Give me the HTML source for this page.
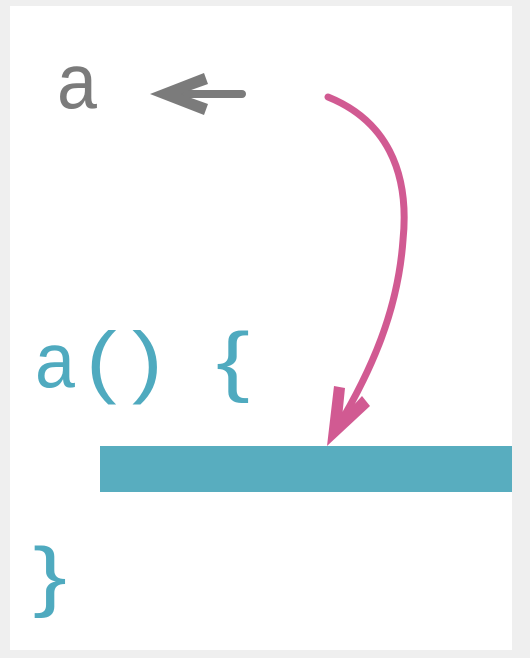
<!DOCTYPE html>
<html><head><style>
html,body{margin:0;padding:0;background:#efefef;}
svg{display:block;}
</style></head><body>
<svg width="530" height="658" viewBox="0 0 530 658" xmlns="http://www.w3.org/2000/svg">
<rect x="0" y="0" width="530" height="658" fill="#efefef"/>
<rect x="10" y="6" width="502" height="644" fill="#ffffff"/>
<text transform="translate(57,108) scale(0.92,1)" font-family="Liberation Sans, sans-serif" font-size="78" fill="#7b7b7b">a</text>
<line x1="242" y1="94" x2="170" y2="94" stroke="#7b7b7b" stroke-width="8" stroke-linecap="round"/>
<polygon points="150,94 204,73 208,84 180,94 208,104 204,115" fill="#7b7b7b"/>
<path d="M328,97 C385,120 410,170 403,240 C398,310 372,370 336,430" fill="none" stroke="#d15a92" stroke-width="7" stroke-linecap="round"/>
<polygon points="327,446 334,386 345,388 342,418 362,396 370,406" fill="#d15a92"/>
<rect x="100" y="446" width="412" height="46" fill="#58adbf"/>
<g font-family="Liberation Sans, sans-serif" fill="#4faabf">
<text transform="translate(35,387) scale(0.92,1)" font-size="78">a</text>
<text transform="translate(86,388) scale(1.15,1)" font-size="80">(</text>
<text transform="translate(132,388) scale(1.15,1)" font-size="80">)</text>
<text transform="translate(216,387) scale(1.3,1)" font-size="78">{</text>
<text transform="translate(33,602) scale(1.3,1)" font-size="78">}</text>
</g>
</svg>
</body></html>
